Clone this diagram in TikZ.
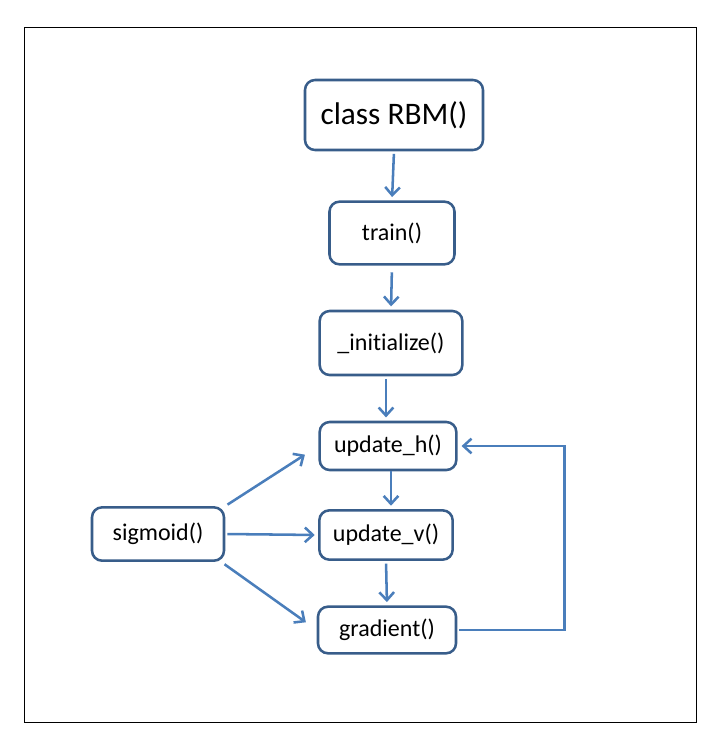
\documentclass[tikz,border=0pt]{standalone}
\usepackage{fontspec}
\setmainfont[Ligatures=NoCommon]{Carlito}
\usetikzlibrary{arrows.meta, positioning}

\definecolor{boxline}{RGB}{56,93,138}
\definecolor{arrowblue}{RGB}{74,126,187}

\tikzset{
  fn/.style={draw=boxline, line width=1.9pt, rounded corners=7.5pt, fill=white,
    font=\fontsize{18}{22}\selectfont, inner sep=0pt},
  flow/.style={draw=arrowblue, line width=1.9pt,
    -{Straight Barb[length=6pt, width=11pt]}}
}

\begin{document}
\begin{tikzpicture}[x=0.75pt, y=-0.75pt]
\useasboundingbox (0,0) rectangle (720,754);
\draw[line width=0.75pt] (24,27) rectangle (696,722);

% call chain
\node[fn, minimum width=133.5pt, minimum height=52.5pt, font=\fontsize{23.5}{28}\selectfont] (rbm) at (394,115) {class RBM()};
\node[fn, minimum width=93.75pt, minimum height=47pt] (train) at (392,233) {train()};
\node[fn, minimum width=107pt, minimum height=48pt] (init) at (391,343) {\_initialize()};
\node[fn, minimum width=102.5pt, minimum height=36pt] (uh) at (388,446) {update\_h()};
\node[fn, minimum width=100pt, minimum height=37pt] (uv) at (386,535) {update\_v()};
\node[fn, minimum width=103.5pt, minimum height=35pt] (grad) at (387,630) {gradient()};
\node[fn, minimum width=99pt, minimum height=40pt] (sig) at (158,534) {sigmoid()};

\draw[flow, shorten <=2pt, shorten >=2.5pt] (rbm.south) -- (train.north);
\draw[flow, shorten <=5pt, shorten >=2.5pt] (train.south) -- (init.north);
\draw[flow, shorten <=2pt, shorten >=2.5pt] ([xshift=-3.75pt]init.south) -- ([xshift=-1.5pt]uh.north);
\draw[flow, shorten <=0pt, shorten >=2.5pt] ([xshift=2.25pt]uh.south) -- ([xshift=3.75pt]uv.north);
\draw[flow, shorten <=2pt, shorten >=2.5pt] (uv.south) -- (grad.north);

% sigmoid feeds the three updates
\draw[flow, shorten <=2pt, shorten >=12pt] (sig.north east) -- (uh.west);
\draw[flow, shorten <=1.5pt, shorten >=2.5pt] (sig.east) -- (uv.west);
\draw[flow, shorten <=3pt, shorten >=10pt] ([xshift=-3pt]sig.south east) -- (grad.west);

% loop back
\draw[flow, shorten <=1.5pt, shorten >=3pt] (grad.east) -- ++(107,0) |- (uh.east);

\end{tikzpicture}
\end{document}
